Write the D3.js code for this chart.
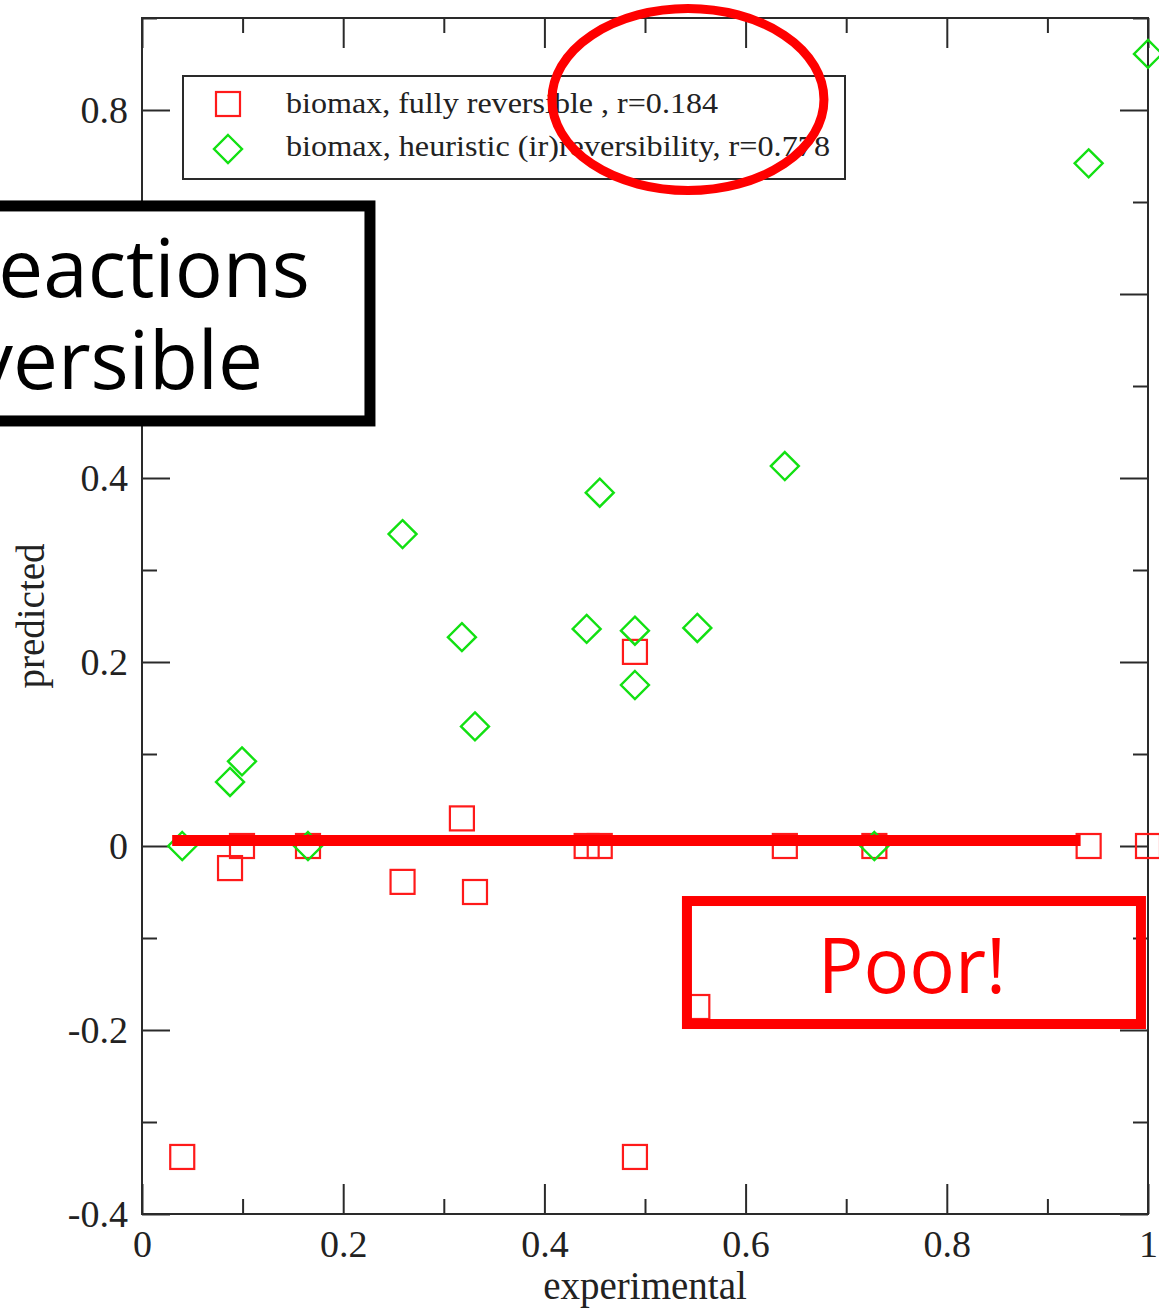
<!DOCTYPE html>
<html>
<head>
<meta charset="utf-8">
<script src="https://cdn.jsdelivr.net/npm/d3@7"></script>
<style>
  html, body { margin: 0; padding: 0; background: #fff; overflow: hidden; }
  svg { display: block; }
</style>
</head>
<body>
<svg id="chart" width="1159" height="1309"></svg>
<script>
// Experimental vs predicted values, two model variants
const experimental = [0.040, 0.0875, 0.0994, 0.165, 0.259, 0.318, 0.331, 0.442, 0.455, 0.490, 0.490, 0.552, 0.639, 0.728, 0.941, 1.000];
const predictedReversible = [-0.338, -0.024, 0.000, 0.000, -0.039, 0.030, -0.050, 0.000, 0.000, 0.211, -0.338, -0.175, 0.000, 0.000, 0.000, 0.000];
const predictedHeuristic  = [0.000, 0.0696, 0.092, 0.000, 0.339, 0.227, 0.130, 0.236, 0.384, 0.234, 0.175, 0.237, 0.413, 0.000, 0.742, 0.861];

const seriesNames = [
  "biomax, fully reversible , r=0.184",
  "biomax, heuristic (ir)reversibility, r=0.778"
];

const xMajorTicks = [0, 0.2, 0.4, 0.6, 0.8, 1];
const xTickLabels = ["0", "0.2", "0.4", "0.6", "0.8", "1"];
const xMinorTicks = [0.1, 0.3, 0.5, 0.7, 0.9];
const yMajorTicks = [-0.4, -0.2, 0, 0.2, 0.4, 0.6, 0.8];
// the 0.6 label sits under the note box, so it is left blank
const yTickLabels = ["-0.4", "-0.2", "0", "0.2", "0.4", "", "0.8"];
const yMinorTicks = [-0.3, -0.1, 0.1, 0.3, 0.5, 0.7, 0.9];

const xTitle = "experimental";
const yTitle = "predicted";

// Overlay annotations (in data units)
const baselineMark = { x0: 0.03, x1: 0.933, y: 0.006 };
const highlightEllipse = { cx: 0.5427, cy: 0.8114, rx: 0.1352, ry: 0.0989 };
const noteBox = { x0: -0.161, x1: 0.2266, y0: 0.462, y1: 0.6957, lines: ["eactions", "versible"] };
const poorBox = { x0: 0.5417, x1: 0.993, y0: -0.1935, y1: -0.0598, label: "Poor!" };

const svg = d3.select("#chart");
const W = 1159, H = 1309;
const plot = { left: 142, right: 1148, top: 18, bottom: 1214 };

const x = d3.scaleLinear().domain([0, 1]).range([plot.left, plot.right]);
const y = d3.scaleLinear().domain([-0.4, 0.9]).range([plot.bottom, plot.top]);

const serif = "'Liberation Serif', 'Times New Roman', serif";
const sans = "'Open Sans', 'Noto Sans', sans-serif";
const axisColor = "#2a2a2a";
const redC = "#ff1a1a";
const greenC = "#12e012";

svg.append("rect").attr("width", W).attr("height", H).attr("fill", "#fff");

function styleAxis(g) {
  g.select(".domain").remove();
  g.selectAll(".tick line").attr("stroke", axisColor).attr("stroke-width", 2);
  g.selectAll("text").attr("font-family", serif).attr("font-size", 38).attr("fill", "#222");
}

// bottom axis
svg.append("g").attr("transform", `translate(0,${plot.bottom})`)
  .call(d3.axisBottom(x).tickValues(xMajorTicks).tickSize(-30).tickPadding(16)
    .tickFormat((d, i) => xTickLabels[i]))
  .call(styleAxis);
svg.append("g").attr("transform", `translate(0,${plot.bottom})`)
  .call(d3.axisBottom(x).tickValues(xMinorTicks).tickSize(-15).tickFormat(""))
  .call(styleAxis);
// top axis
svg.append("g").attr("transform", `translate(0,${plot.top})`)
  .call(d3.axisTop(x).tickValues(xMajorTicks).tickSize(-30).tickFormat(""))
  .call(styleAxis);
svg.append("g").attr("transform", `translate(0,${plot.top})`)
  .call(d3.axisTop(x).tickValues(xMinorTicks).tickSize(-15).tickFormat(""))
  .call(styleAxis);
// left axis
svg.append("g").attr("transform", `translate(${plot.left},0)`)
  .call(d3.axisLeft(y).tickValues(yMajorTicks).tickSize(-28).tickPadding(14)
    .tickFormat((d, i) => yTickLabels[i]))
  .call(styleAxis);
svg.append("g").attr("transform", `translate(${plot.left},0)`)
  .call(d3.axisLeft(y).tickValues(yMinorTicks).tickSize(-15).tickFormat(""))
  .call(styleAxis);
// right axis
svg.append("g").attr("transform", `translate(${plot.right},0)`)
  .call(d3.axisRight(y).tickValues(yMajorTicks).tickSize(-28).tickFormat(""))
  .call(styleAxis);
svg.append("g").attr("transform", `translate(${plot.right},0)`)
  .call(d3.axisRight(y).tickValues(yMinorTicks).tickSize(-15).tickFormat(""))
  .call(styleAxis);

// frame
svg.append("rect")
  .attr("x", plot.left).attr("y", plot.top)
  .attr("width", plot.right - plot.left).attr("height", plot.bottom - plot.top)
  .attr("fill", "none").attr("stroke", axisColor).attr("stroke-width", 2);

// axis titles
svg.append("text")
  .attr("x", (plot.left + plot.right) / 2).attr("y", 1299)
  .attr("text-anchor", "middle")
  .attr("font-family", serif).attr("font-size", 39).attr("fill", "#222")
  .text(xTitle);
svg.append("text")
  .attr("transform", `translate(44,616) rotate(-90)`)
  .attr("text-anchor", "middle")
  .attr("font-family", serif).attr("font-size", 39).attr("fill", "#222")
  .text(yTitle);

// markers
const sq = 24, dia = 14;
const pts = svg.append("g");
pts.selectAll("rect.rev")
  .data(experimental.map((e, i) => ({ e, p: predictedReversible[i] })))
  .join("rect").attr("class", "rev")
  .attr("x", d => x(d.e) - sq / 2).attr("y", d => y(d.p) - sq / 2)
  .attr("width", sq).attr("height", sq)
  .attr("fill", "none").attr("stroke", redC).attr("stroke-width", 2.2);

const diamond = (cx, cy, r) => `M${cx},${cy - r}L${cx + r},${cy}L${cx},${cy + r}L${cx - r},${cy}Z`;
pts.selectAll("path.heur")
  .data(experimental.map((e, i) => ({ e, p: predictedHeuristic[i] })))
  .join("path").attr("class", "heur")
  .attr("d", d => diamond(x(d.e), y(d.p), dia))
  .attr("fill", "none").attr("stroke", greenC).attr("stroke-width", 2.4);

// legend
const legendWidths = [432, 544];
const lg = svg.append("g");
lg.append("rect").attr("x", 183).attr("y", 76).attr("width", 662).attr("height", 103)
  .attr("fill", "#fff").attr("stroke", axisColor).attr("stroke-width", 2);
lg.append("rect").attr("x", 228 - sq / 2).attr("y", 104 - sq / 2).attr("width", sq).attr("height", sq)
  .attr("fill", "none").attr("stroke", redC).attr("stroke-width", 2.2);
lg.append("path").attr("d", diamond(228, 149, dia))
  .attr("fill", "none").attr("stroke", greenC).attr("stroke-width", 2.4);
lg.selectAll("text.lt").data(seriesNames).join("text").attr("class", "lt")
  .attr("x", 286).attr("y", (d, i) => 113 + i * 43)
  .attr("font-family", serif).attr("font-size", 29.5).attr("fill", "#222")
  .attr("textLength", (d, i) => legendWidths[i]).attr("lengthAdjust", "spacingAndGlyphs")
  .text(d => d);

// annotations
svg.append("line")
  .attr("x1", x(baselineMark.x0)).attr("x2", x(baselineMark.x1))
  .attr("y1", y(baselineMark.y)).attr("y2", y(baselineMark.y))
  .attr("stroke", "#ff0000").attr("stroke-width", 11);

svg.append("ellipse")
  .attr("cx", x(highlightEllipse.cx)).attr("cy", y(highlightEllipse.cy))
  .attr("rx", x(highlightEllipse.rx) - x(0)).attr("ry", y(0) - y(highlightEllipse.ry))
  .attr("fill", "none").attr("stroke", "#ff0000").attr("stroke-width", 9);

svg.append("rect")
  .attr("x", x(noteBox.x0)).attr("y", y(noteBox.y1))
  .attr("width", x(noteBox.x1) - x(noteBox.x0)).attr("height", y(noteBox.y0) - y(noteBox.y1))
  .attr("fill", "#fff").attr("stroke", "#000").attr("stroke-width", 11);
svg.append("text")
  .attr("x", x(noteBox.x1) - 60).attr("y", y(noteBox.y1) + 91)
  .attr("text-anchor", "end")
  .attr("font-family", sans).attr("font-size", 80).attr("fill", "#000")
  .text(noteBox.lines[0]);
svg.append("text")
  .attr("x", x(noteBox.x1) - 107).attr("y", y(noteBox.y1) + 183)
  .attr("text-anchor", "end")
  .attr("font-family", sans).attr("font-size", 80).attr("fill", "#000")
  .text(noteBox.lines[1]);

svg.append("rect")
  .attr("x", x(poorBox.x0)).attr("y", y(poorBox.y1))
  .attr("width", x(poorBox.x1) - x(poorBox.x0)).attr("height", y(poorBox.y0) - y(poorBox.y1))
  .attr("fill", "none").attr("stroke", "#ff0000").attr("stroke-width", 10);
svg.append("text")
  .attr("x", (x(poorBox.x0) + x(poorBox.x1)) / 2 - 2).attr("y", y(poorBox.y1) + 92)
  .attr("text-anchor", "middle")
  .attr("font-family", sans).attr("font-size", 76).attr("fill", "#ff0000")
  .text(poorBox.label);
</script>
</body>
</html>
